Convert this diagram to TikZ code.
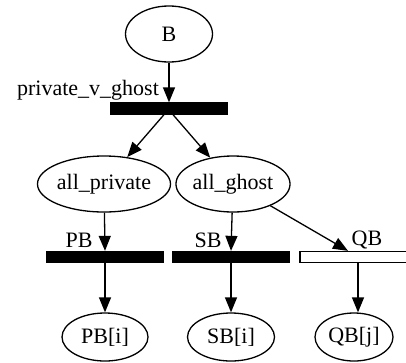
\documentclass[tikz,border=0pt]{standalone}
\usepackage{fontspec}
\setmainfont{Liberation Serif}
\usetikzlibrary{shapes.geometric}
\usetikzlibrary{arrows.meta}

\begin{document}
\begin{tikzpicture}[x=1pt, y=-1pt, line width=1.3pt, font=\fontsize{22}{26}\selectfont,
    state/.style={ellipse, draw, inner sep=0, minimum height=52pt},
    bar/.style={rectangle, draw, fill=black, inner sep=0, minimum width=116pt, minimum height=11pt},
    arc/.style={-{Triangle[length=15pt, width=12pt]}}]
        \useasboundingbox (0,0) rectangle (406,362);

        \node (B) [state, minimum width=87pt, minimum height=56pt] at (169, 34) {B};

        \node (pvg) [bar] at (169, 108.5) {};
        \node (pvgl) at (88, 90) {private\_v\_ghost};

        \node (allp) [state, minimum width=126pt, minimum height=56pt] at (104, 184) {all\_private};
        \node (allg) [state, minimum width=108pt, minimum height=56pt] at (233, 184) {all\_ghost};

        \node (pb) [bar] at (105, 257) {};
        \node (sb) [bar] at (231, 257) {};
        \node (qb) [bar, fill=white] at (358, 257) {};

        \node (pbl) at (79, 240) {PB};
        \node (sbl) at (208, 240) {SB};
        \node (qbl) at (367, 240) {QB};

        \node (pbi) [state, minimum width=86pt, minimum height=48pt] at (105, 337) {PB[i]};
        \node (sbi) [state, minimum width=87pt, minimum height=48pt] at (231, 337) {SB[i]};
        \node (qbj) [state, minimum width=78pt, minimum height=48pt] at (354, 337) {QB[j]};

        \path[arc]
        (B) edge (pvg.north)
        ([xshift=-5pt]pvg.south) edge (allp)
        ([xshift=4pt]pvg.south) edge (allg)

        (allp) edge (pb.north)
        (allg) edge (sb.north)
        (allg) edge ([xshift=-10pt]qb.north)

        (pb.south) edge (pbi)
        (sb.south) edge (sbi)
        (qb.south) edge ([xshift=4pt]qbj.north)
        ;
      \end{tikzpicture}
\end{document}
